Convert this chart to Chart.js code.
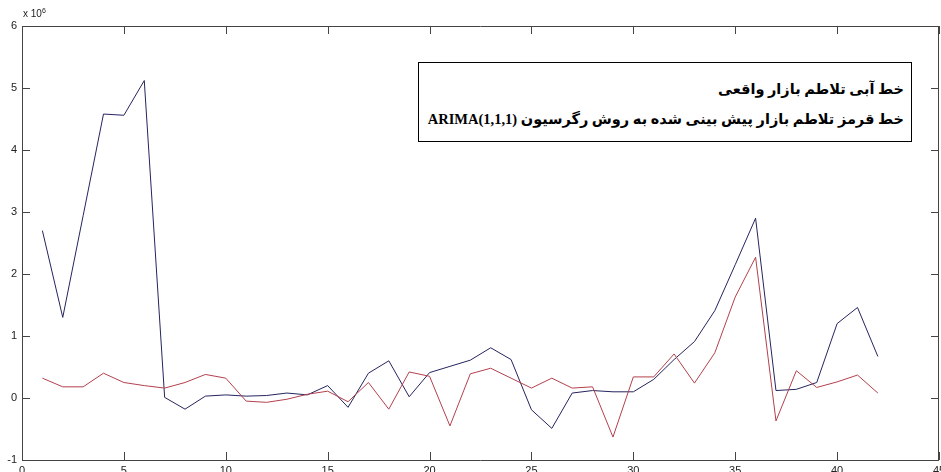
<!DOCTYPE html>
<html>
<head>
<meta charset="utf-8">
<script src="https://cdn.jsdelivr.net/npm/chart.js@4.4.1/dist/chart.umd.min.js"></script>
<style>
  html, body { margin:0; padding:0; background:#fff; }
  #wrap { position:relative; width:941px; height:472px; overflow:hidden; }
  #c { position:absolute; left:0; top:0; }
  #exp { position:absolute; left:23px; top:7px; font-family:"Liberation Sans", Arial, sans-serif; font-size:10px; color:#222; }
  #exp sup { font-size:7px; }
  #legendBox { position:absolute; left:418px; top:62px; width:494px; height:80px; border:1px solid #000; background:#fff; box-sizing:border-box;
    font-family:"Liberation Serif","DejaVu Sans",serif; font-weight:bold; font-size:14.5px; color:#000; direction:rtl; text-align:right; }
  #legendBox div { position:absolute; right:7px; white-space:nowrap; }
</style>
</head>
<body>
<div id="wrap">
  <canvas id="c" width="941" height="472"></canvas>
  <div id="exp">x 10<sup>6</sup></div>
  <div id="legendBox">
    <div style="top:18px">خط آبی تلاطم بازار واقعی</div>
    <div style="top:48px">خط قرمز تلاطم بازار پیش بینی شده به روش رگرسیون ARIMA(1,1,1)</div>
  </div>
</div>
<script>
const periods = [1,2,3,4,5,6,7,8,9,10,11,12,13,14,15,16,17,18,19,20,21,22,23,24,25,26,27,28,29,30,31,32,33,34,35,36,37,38,39,40,41,42];
// values in units of 10^6
const actualVolatility = [2.70,1.30,2.94,4.58,4.56,5.12,0.01,-0.18,0.03,0.05,0.03,0.04,0.08,0.05,0.20,-0.15,0.40,0.60,0.02,0.41,0.51,0.61,0.81,0.62,-0.19,-0.49,0.08,0.12,0.10,0.10,0.30,0.62,0.91,1.41,2.15,2.90,0.12,0.14,0.25,1.20,1.46,0.67];
const forecastVolatility = [0.32,0.18,0.18,0.40,0.25,0.20,0.16,0.25,0.38,0.32,-0.05,-0.07,-0.02,0.06,0.11,-0.06,0.25,-0.18,0.42,0.35,-0.45,0.39,0.48,0.32,0.16,0.32,0.16,0.18,-0.63,0.34,0.34,0.71,0.24,0.73,1.63,2.27,-0.37,0.44,0.17,0.26,0.37,0.08];
const xTicks = [0,5,10,15,20,25,30,35,40,45];
const yTicks = [-1,0,1,2,3,4,5,6];

const toPts = arr => periods.map((p,i)=>({x:p, y:arr[i]}));

const frameTicks = {
  id:'frameTicks',
  afterDatasetsDraw(chart){
    const {ctx, chartArea:a, scales} = chart;
    ctx.save();
    ctx.strokeStyle = '#444';
    ctx.lineWidth = 1;
    ctx.beginPath();
    ctx.rect(Math.round(a.left)+0.5, Math.round(a.top)+0.5, Math.round(a.right-a.left)-1, Math.round(a.bottom-a.top));
    ctx.stroke();
    const L = 8;
    ctx.beginPath();
    yTicks.forEach(v=>{
      const y = Math.round(scales.y.getPixelForValue(v))+0.5;
      ctx.moveTo(a.left, y); ctx.lineTo(a.left+L, y);
      ctx.moveTo(a.right, y); ctx.lineTo(a.right-L, y);
    });
    xTicks.forEach(v=>{
      const x = Math.round(scales.x.getPixelForValue(v))+0.5;
      ctx.moveTo(x, a.bottom); ctx.lineTo(x, a.bottom-L);
      ctx.moveTo(x, a.top); ctx.lineTo(x, a.top+L);
    });
    ctx.stroke();
    ctx.restore();
  }
};

new Chart(document.getElementById('c'), {
  type:'line',
  data:{
    datasets:[
      {label:'actual', data:toPts(actualVolatility), borderColor:'#24245f', borderWidth:1, pointRadius:0, tension:0, order:2},
      {label:'forecast', data:toPts(forecastVolatility), borderColor:'#b3404c', borderWidth:1, pointRadius:0, tension:0, order:1}
    ]
  },
  options:{
    responsive:false,
    animation:false,
    layout:{padding:{left:0,right:2,top:26,bottom:0}},
    plugins:{legend:{display:false}, tooltip:{enabled:false}},
    scales:{
      x:{type:'linear', min:0, max:45,
        afterBuildTicks(s){ s.ticks = xTicks.map(v=>({value:v})); },
        afterFit(s){ s.height = 12; s.paddingLeft = 0; s.paddingRight = 0; },
        grid:{display:false, drawTicks:false}, border:{display:false},
        ticks:{padding:4, color:'#222', font:{family:'Liberation Sans', size:11}, maxRotation:0, autoSkip:false}
      },
      y:{type:'linear', min:-1, max:6,
        afterBuildTicks(s){ s.ticks = yTicks.map(v=>({value:v})); },
        afterFit(s){ s.width = 22; s.paddingTop = 0; s.paddingBottom = 0; },
        grid:{display:false, drawTicks:false}, border:{display:false},
        ticks:{padding:5, color:'#222', font:{family:'Liberation Sans', size:11}}
      }
    }
  },
  plugins:[frameTicks]
});
</script>
</body>
</html>
